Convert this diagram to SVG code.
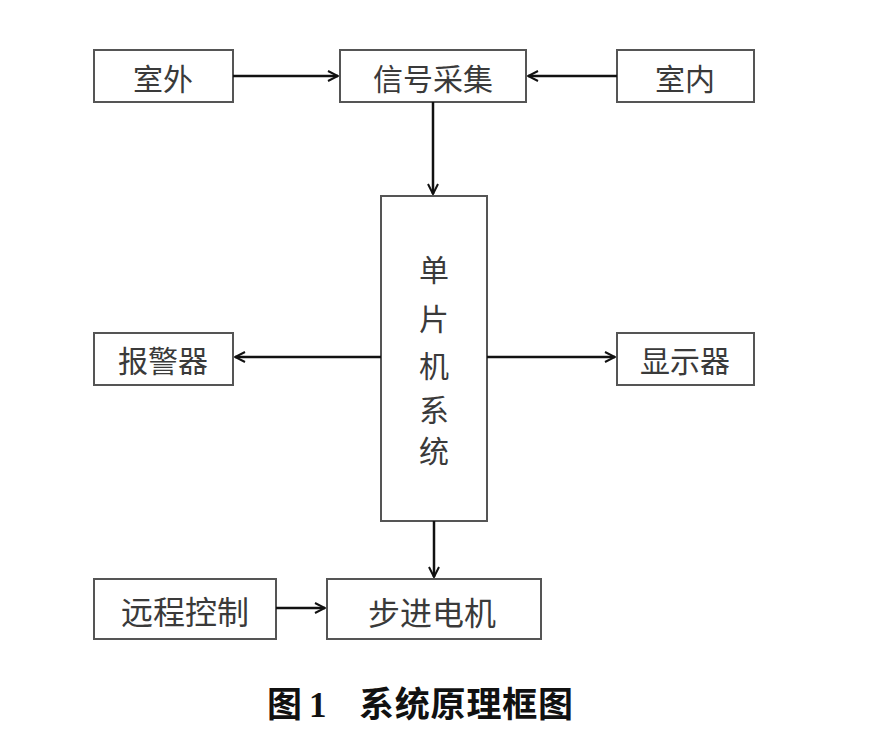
<svg xmlns="http://www.w3.org/2000/svg" width="896" height="750" viewBox="0 0 896 750">
<style>
.box{fill:#fff;stroke:#555;stroke-width:2}
.t{font-family:"Noto Sans CJK SC","Noto Sans CJK JP",sans-serif;font-size:30px;fill:#3a3a3a;text-anchor:middle;dominant-baseline:central}
.c{stroke:#111;stroke-width:2.5;fill:none}
.cap{font-family:"Liberation Serif","Noto Sans CJK SC",serif;font-size:35px;font-weight:bold;fill:#111}
</style>
<defs>
<marker id="a" viewBox="0 0 12 12" refX="11" refY="6" markerWidth="12" markerHeight="12" markerUnits="userSpaceOnUse" orient="auto">
<path d="M1,1 L11,6 L1,11" fill="none" stroke="#111" stroke-width="2"/>
</marker>
</defs>
<rect width="896" height="750" fill="#fff"/>
<g id="n-outdoor"><rect class="box" x="94" y="50" width="139" height="52"/><text class="t" x="163" y="77">室外</text></g>
<g id="n-signal"><rect class="box" x="340" y="50" width="186" height="52"/><text class="t" x="433" y="77">信号采集</text></g>
<g id="n-indoor"><rect class="box" x="617" y="50" width="137" height="52"/><text class="t" x="685" y="77">室内</text></g>
<g id="n-mcu"><rect class="box" x="381" y="196" width="106" height="325"/>
<text class="t" x="434" y="268">单</text><text class="t" x="434" y="317">片</text><text class="t" x="434" y="364">机</text><text class="t" x="434" y="408">系</text><text class="t" x="434" y="449">统</text></g>
<g id="n-alarm"><rect class="box" x="94" y="333" width="139" height="52"/><text class="t" x="163" y="359">报警器</text></g>
<g id="n-display"><rect class="box" x="617" y="333" width="137" height="52"/><text class="t" x="685" y="359">显示器</text></g>
<g id="n-remote"><rect class="box" x="94" y="579" width="182" height="60"/><text class="t" x="185" y="610" style="font-size:32px">远程控制</text></g>
<g id="n-motor"><rect class="box" x="327" y="579" width="214" height="60"/><text class="t" x="432" y="611" style="font-size:32px">步进电机</text></g>
<g id="connectors">
<line class="c" x1="233" y1="76" x2="338" y2="76" marker-end="url(#a)"/>
<line class="c" x1="617" y1="76" x2="528" y2="76" marker-end="url(#a)"/>
<line class="c" x1="433" y1="102" x2="433" y2="194" marker-end="url(#a)"/>
<line class="c" x1="381" y1="357" x2="235" y2="357" marker-end="url(#a)"/>
<line class="c" x1="487" y1="357" x2="615" y2="357" marker-end="url(#a)"/>
<line class="c" x1="434" y1="521" x2="434" y2="577" marker-end="url(#a)"/>
<line class="c" x1="276" y1="608" x2="325" y2="608" marker-end="url(#a)"/>
</g>
<text class="cap" y="717"><tspan x="267">图</tspan><tspan x="309">1</tspan><tspan x="359" textLength="214" lengthAdjust="spacing">系统原理框图</tspan></text>
</svg>
